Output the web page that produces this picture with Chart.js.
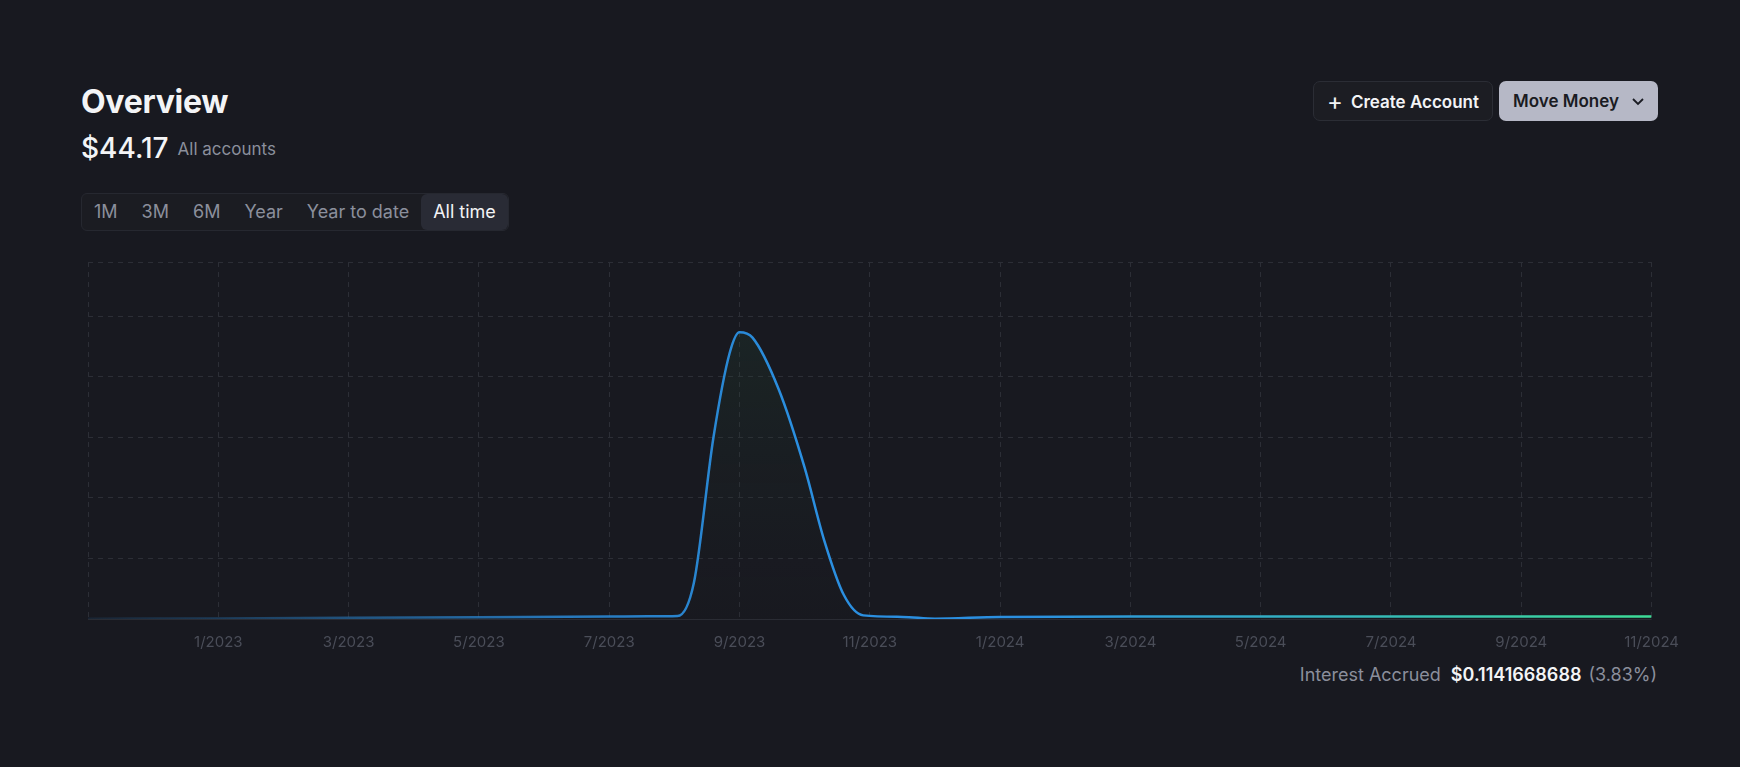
<!DOCTYPE html>
<html><head><meta charset="utf-8">
<script src="https://cdn.jsdelivr.net/npm/chart.js@4"></script>
<style>
body{margin:0;background:#181920;width:1740px;height:767px;overflow:hidden;font-family:Inter,sans-serif;color:#f3f4f6;position:relative}
#title{position:absolute;left:81px;top:82px;font-size:32px;font-weight:700;letter-spacing:-0.3px}
#bal{position:absolute;left:81px;top:131px;font-size:28px;font-weight:500}
#bal span{font-size:17px;color:#8b8f9c;font-weight:400;margin-left:9px;vertical-align:3px}
#tabs{position:absolute;left:81px;top:193px;height:36px;border:1px solid #262830;border-radius:6px;display:flex;align-items:center;background:#1b1c22}
#tabs div{padding:0 12px;font-size:18px;color:#8b8f9c;height:36px;line-height:36px}
#tabs div.on{background:#292b35;color:#f3f4f6;border-radius:6px}
.btn{position:absolute;top:81px;height:40px;border-radius:7px;font-size:17px;font-weight:600;line-height:40px;box-sizing:border-box}
#b1{left:1313px;width:180px;border:1px solid #2b2d35;background:#1c1d23;color:#f3f4f6;text-align:center}
#b2{left:1499px;width:159px;background:#b6b8c6;color:#1a1b22;padding-left:14px}
#int{position:absolute;right:83px;top:664px;font-size:18px;color:#8b8f9c}
#int b{color:#f3f4f6;font-weight:600;margin:0 7px 0 10px}
#wrap{position:absolute;left:73.5px;top:262px;width:1619px;height:403px}
</style></head><body>
<div id="title">Overview</div>
<div id="bal">$44.17<span>All accounts</span></div>
<div id="tabs"><div>1M</div><div>3M</div><div>6M</div><div>Year</div><div>Year to date</div><div class="on">All time</div></div>
<div class="btn" id="b1"><span style="font-weight:400;font-size:24px;vertical-align:-2px;margin-right:8px">+</span>Create Account</div>
<div class="btn" id="b2">Move Money <svg width="14" height="10" viewBox="0 0 14 10" style="margin-left:8px;vertical-align:0"><path d="M2 2 L7 7 L12 2" stroke="#1a1b22" stroke-width="1.8" fill="none"/></svg></div>
<div id="int">Interest Accrued<b>$0.1141668688</b>(3.83%)</div>
<div id="wrap"><canvas id="c"></canvas></div>
<script>
// x = months since 11/2022
const months = [0,2,4,6,8,8.6,9.05,9.3,9.6,9.85,10.0,10.2,10.6,11.0,11.3,11.6,11.9,12.5,13,14,16,18,20,22,24];
const values = [0.05,0.1,0.2,0.3,0.4,0.45,0.5,6,30,44,47.4,46.5,38,25,13,4,0.6,0.35,0.05,0.35,0.4,0.4,0.4,0.4,0.4];
const tickLabels = ['','1/2023','3/2023','5/2023','7/2023','9/2023','11/2023','1/2024','3/2024','5/2024','7/2024','9/2024','11/2024'];
const data = months.map((m,i)=>({x:m,y:values[i]}));
new Chart(document.getElementById('c'),{
 type:'line',
 data:{datasets:[{data,borderWidth:2.5,pointRadius:0,tension:0.4,cubicInterpolationMode:'monotone',fill:true,
  borderColor:(ctx)=>{const a=ctx.chart.chartArea;if(!a)return '#2b8fe0';const g=ctx.chart.ctx.createLinearGradient(a.left,0,a.right,0);
   g.addColorStop(0,'rgba(43,143,224,0.1)');g.addColorStop(0.3,'rgba(43,143,224,0.8)');g.addColorStop(0.45,'#2b8fe0');g.addColorStop(0.6,'#2b8fe0');g.addColorStop(1,'#3ddc97');return g;},
  backgroundColor:(ctx)=>{const a=ctx.chart.chartArea;if(!a)return 'transparent';const g=ctx.chart.ctx.createLinearGradient(0,a.top,0,a.bottom);
   g.addColorStop(0,'rgba(40,90,60,0.25)');g.addColorStop(1,'rgba(30,30,35,0.1)');return g;}}]},
 options:{responsive:true,maintainAspectRatio:false,animation:false,
  plugins:{legend:{display:false},tooltip:{enabled:false}},
  scales:{
   x:{type:'linear',min:0,max:24,border:{display:false,dash:[5,5]},
    grid:{color:'#2c2e36',tickLength:0,drawTicks:false},
    ticks:{stepSize:2,color:'#4a4d58',font:{family:'Inter',size:15},padding:14,maxRotation:0,autoSkip:false,callback:(v)=>tickLabels[v/2]}},
   y:{min:0,max:59,border:{display:false,dash:(c)=>c.tick&&c.tick.value===0?[]:[5,5]},
    grid:{color:(c)=>c.tick.value===0?'#2a2c34':'#2c2e36',drawTicks:false},
    afterBuildTicks:(ax)=>{ax.ticks=[0,10,20,30,40,50,59].map(v=>({value:v}));},
    ticks:{display:false}}
  }}
});
</script>
</body></html>
